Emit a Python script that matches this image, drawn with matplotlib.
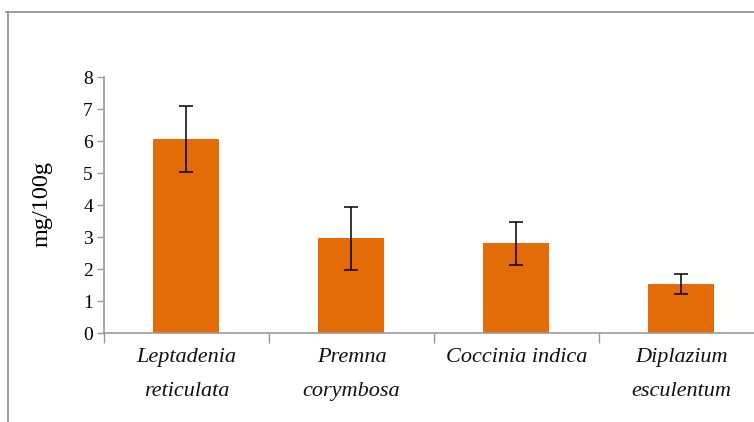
import matplotlib
matplotlib.use("Agg")
import matplotlib.pyplot as plt
from matplotlib.lines import Line2D
import numpy as np

# mean content (mg/100g) and error for each plant
species = ["Leptadenia\nreticulata", "Premna\ncorymbosa", "Coccinia indica", "Diplazium\nesculentum"]
values = [6.06, 2.96, 2.80, 1.54]
errors = [1.03, 0.98, 0.67, 0.31]

plt.rcParams['font.family'] = ['Liberation Serif', 'DejaVu Serif']

fig = plt.figure(figsize=(7.54, 4.22), dpi=100)
ax = fig.add_axes([104/754, 89/422, 650/754, 256/422])

x = np.arange(len(species))
ax.bar(x, values, width=0.4, color='#e36c09', edgecolor='none', zorder=2)
ax.errorbar(x, values, yerr=errors, fmt='none', ecolor='black',
            elinewidth=1.1, capsize=5, capthick=1.1, zorder=3)

ax.set_xlim(-0.5, 3.44)
ax.set_ylim(0, 8)
ax.set_yticks(range(0, 9))
ax.tick_params(axis='y', labelsize=14, length=5, width=1, color='#999999', pad=3)

# category boundaries carry the ticks, names sit centred under the bars
ax.set_xticks(np.arange(-0.5, 3.5, 1.0))
ax.set_xticklabels([])
ax.tick_params(axis='x', length=7, width=1, color='#999999')
for xi, name in zip(x, species):
    ax.text(xi, -0.47, name, ha='center', va='top', fontsize=16, style='italic',
            linespacing=2.1, transform=ax.transData, color='#111111')

for s in ['top', 'right']:
    ax.spines[s].set_visible(False)
for s in ['left', 'bottom']:
    ax.spines[s].set_color('#999999')
    ax.spines[s].set_linewidth(1.2)

fig.text(42/754, 1 - 204/422, 'mg/100g', rotation=90, ha='center', va='center', fontsize=17.5)

# frame lines along the top and left edge
fig.add_artist(Line2D([6/754, 1], [1 - 12/422, 1 - 12/422], color='#8c8c8c', lw=1.2))
fig.add_artist(Line2D([8/754, 8/754], [0, 1 - 12/422], color='#8c8c8c', lw=1.2))

fig.savefig('out.png', dpi=100)
